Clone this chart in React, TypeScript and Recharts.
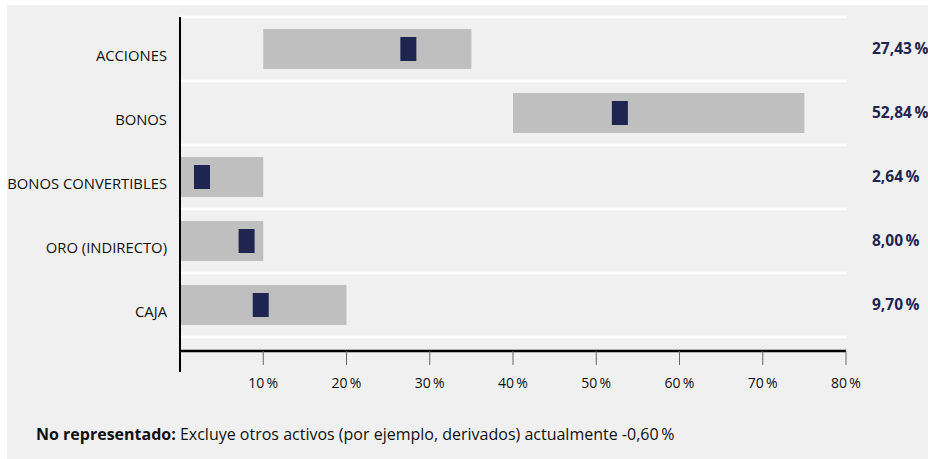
import React from 'react';
import { ComposedChart, Bar, Scatter, XAxis, YAxis, CartesianGrid } from 'recharts';

const categories = ['ACCIONES', 'BONOS', 'BONOS CONVERTIBLES', 'ORO (INDIRECTO)', 'CAJA'];
const rangeMin = [10, 40, 0, 0, 0];
const rangeMax = [35, 75, 10, 10, 20];
const actual = [27.43, 52.84, 2.64, 8.0, 9.7];
const xTicks = [0, 10, 20, 30, 40, 50, 60, 70, 80];
const footnoteBold = 'No representado:';
const footnoteText = ' Excluye otros activos (por ejemplo, derivados) actualmente -0,60\u2009%';

const NAVY = '#1e2550';
const GRAY = '#bfbfbf';
const BG = '#f0f0f0';
const TEXT = '#111111';
const FONT = '"Open Sans", sans-serif';
const Y_PAD_BOTTOM = 14;

const data = categories.map((name, i) => ({
  name,
  range: [rangeMin[i], rangeMax[i]],
  actual: actual[i],
}));

const fmt = (v: number) => v.toFixed(2).replace('.', ',') + '\u2009%';

const XTick = (props: any) => {
  const { x, y, payload } = props;
  const axisY = y - 14 - 12;
  if (payload.value === 0) {
    return <line x1={x} x2={x} y1={axisY - 1} y2={axisY + 21} stroke="#000" strokeWidth={2} />;
  }
  return (
    <text x={x} y={y + 11} textAnchor="middle" fontFamily={FONT} fontSize={14} fill={TEXT}>
      {payload.value + '\u2009%'}
    </text>
  );
};

const LeftTick = (props: any) => {
  const { x, y, payload } = props;
  return (
    <text x={x} y={y + 11.5} textAnchor="end" fontFamily={FONT} fontSize={14.8} fill={TEXT}>
      {payload.value}
    </text>
  );
};

const RightTick = (props: any) => {
  const { x, y, index } = props;
  return (
    <text x={x} y={y + 4.5} textAnchor="start" fontFamily={FONT} fontSize={15.5} fontWeight={700} fill={NAVY}>
      {fmt(actual[index])}
    </text>
  );
};

const Marker = (props: any) => {
  const { cx, cy } = props;
  if (cx == null || cy == null) return null;
  return <rect x={cx - 8} y={cy - 12} width={16} height={24} fill={NAVY} />;
};

const gridGen = ({ yAxis, offset }: any) => {
  try {
    const s = yAxis && yAxis.scale;
    let f: any = null;
    if (typeof s === 'function') f = s;
    else if (s && typeof s.map === 'function') f = (v: any) => s.map(v);
    if (f) {
      const bwFn = typeof s.bandwidth === 'function' ? s.bandwidth : null;
      const pts = categories.map((c) => f(c));
      if (pts.every((p) => typeof p === 'number' && !isNaN(p))) {
        const bw = bwFn ? bwFn() : pts[1] - pts[0];
        pts.push(pts[pts.length - 1] + bw);
        return pts;
      }
    }
  } catch (e) {
    // fall through
  }
  const h = (offset.height - Y_PAD_BOTTOM) / categories.length;
  return [...categories.map((_, i) => offset.top + i * h), offset.top + categories.length * h];
};

export default function App() {
  return (
    <div style={{ position: 'absolute', left: 0, top: 0, width: 928, height: 459, background: '#fff', overflow: 'hidden' }}>
      <div style={{ position: 'absolute', left: 7, top: 5, width: 921, height: 454, background: BG }} />
      <div style={{ position: 'absolute', left: 0, top: 0 }}>
        <ComposedChart
          width={928}
          height={400}
          data={data}
          layout="vertical"
          margin={{ top: 17, right: 0, bottom: 0, left: 0 }}
        >
          <CartesianGrid
            yAxisId="left"
            vertical={false}
            stroke="#ffffff"
            strokeWidth={2.5}
            horizontalCoordinatesGenerator={gridGen}
          />
          <XAxis
            type="number"
            domain={[0, 80]}
            ticks={xTicks}
            interval={0}
            height={49}
            axisLine={{ stroke: '#000', strokeWidth: 2.5 }}
            tickLine={{ stroke: '#666', strokeWidth: 1 }}
            tickSize={14}
            tickMargin={12}
            tick={<XTick />}
          />
          <YAxis
            yAxisId="left"
            type="category"
            dataKey="name"
            width={180}
            axisLine={{ stroke: '#000', strokeWidth: 2 }}
            tickLine={false}
            tickSize={0}
            tickMargin={13}
            padding={{ top: 0, bottom: Y_PAD_BOTTOM }}
            tick={<LeftTick />}
            interval={0}
          />
          <YAxis
            yAxisId="right"
            orientation="right"
            type="category"
            dataKey="name"
            width={82}
            axisLine={false}
            tickLine={false}
            tickSize={0}
            tickMargin={26}
            padding={{ top: 0, bottom: Y_PAD_BOTTOM }}
            tick={<RightTick />}
            interval={0}
          />
          <Bar yAxisId="left" dataKey="range" fill={GRAY} barSize={40} isAnimationActive={false} />
          <Scatter yAxisId="left" dataKey="actual" shape={<Marker />} isAnimationActive={false} />
        </ComposedChart>
      </div>
      <div
        style={{
          position: 'absolute',
          left: 36,
          top: 423,
          fontFamily: FONT,
          fontSize: 16,
          lineHeight: '22px',
          color: TEXT,
          whiteSpace: 'nowrap',
        }}
      >
        <b>{footnoteBold}</b>
        {footnoteText}
      </div>
    </div>
  );
}
